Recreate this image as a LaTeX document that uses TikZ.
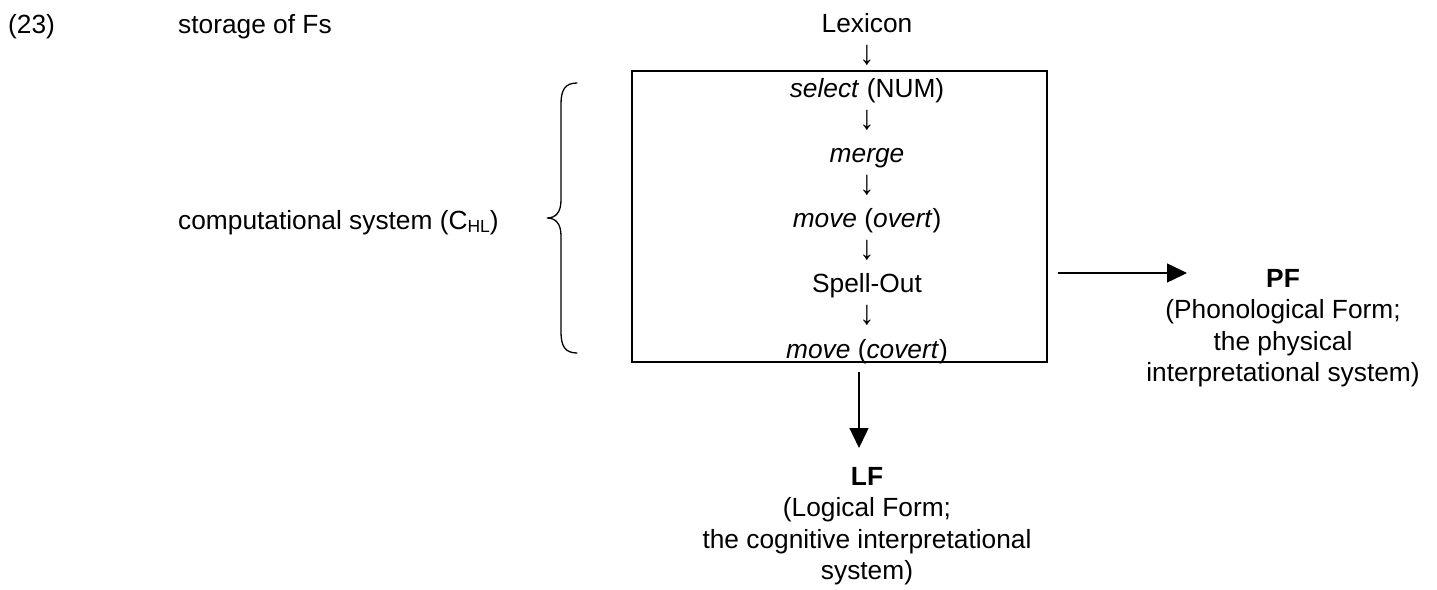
\documentclass[tikz,border=0pt]{standalone}
\usepackage{graphicx}
\usepackage{fontspec}
\setmainfont{Liberation Sans}
\usetikzlibrary{arrows.meta}
\newcommand\downglyph{\scalebox{1.15}[1.3]{↓}}
\begin{document}
\begin{tikzpicture}[x=1pt,y=-1pt,
  txt/.style={inner sep=0pt, anchor=base, font=\fontsize{26.3}{31.6}\selectfont},
  lefttxt/.style={txt, anchor=base west},
  multitxt/.style={txt, align=center},
  flowbox/.style={draw, line width=1.6pt, inner sep=0pt, minimum width=415pt, minimum height=291pt},
  bigarrow/.style={line width=1.4pt, -{Triangle[length=20pt,width=19pt]}},
  bracestyle/.style={line width=1.3pt, line cap=round}]
\useasboundingbox (0,0) rectangle (1437,589);

% left texts
\node[lefttxt] (num) at (8,33) {(23)};
\node[lefttxt] (storage) at (178,33) {storage of Fs};
\node[lefttxt] (comp) at (178,229) {computational system (C\raisebox{-0.12em}{\fontsize{17.5}{17.5}\selectfont HL})};

% brace
\draw[bracestyle] (577,83) .. controls (565,83) and (561,90) .. (561,104)
  -- (561,200) .. controls (561,212) and (556,218) .. (547,218)
  .. controls (556,218) and (561,224) .. (561,236)
  -- (561,332) .. controls (561,346) and (565,353) .. (577,353);

% box
\node[flowbox] (box) at (839.5,216.5) {};

% column of steps
\node[txt] (lex) at (867,32) {Lexicon};
\node[txt] (a0) at (867,64) {\downglyph};
\node[txt] (sel) at (867,97.2) {\textit{select} (NUM)};
\node[txt] (a1) at (867,129.2) {\downglyph};
\node[txt] (mer) at (867,162.4) {\textit{merge}};
\node[txt] (a2) at (867,194.4) {\downglyph};
\node[txt] (mov) at (867,227.6) {\textit{move} (\textit{overt})};
\node[txt] (a3) at (867,259.6) {\downglyph};
\node[txt] (spell) at (867,292.8) {Spell-Out};
\node[txt] (a4) at (867,324.8) {\downglyph};
\node[txt] (cov) at (867,358) {\textit{move} (\textit{covert})};

% PF
\node[multitxt] (pf) at (1283,381.8) {\textbf{PF}\\(Phonological Form;\\the physical\\interpretational system)};
\coordinate (pfstart) at (1058,273);
\coordinate (pfend) at (1187,273);
\draw[bigarrow] (pfstart) -- (pfend);

% LF
\node[multitxt] (lf) at (867,579.8) {\textbf{LF}\\(Logical Form;\\the cognitive interpretational\\system)};
\coordinate (lfstart) at (859,372);
\coordinate (lfend) at (859,448);
\draw[bigarrow] (lfstart) -- (lfend);
\end{tikzpicture}
\end{document}
